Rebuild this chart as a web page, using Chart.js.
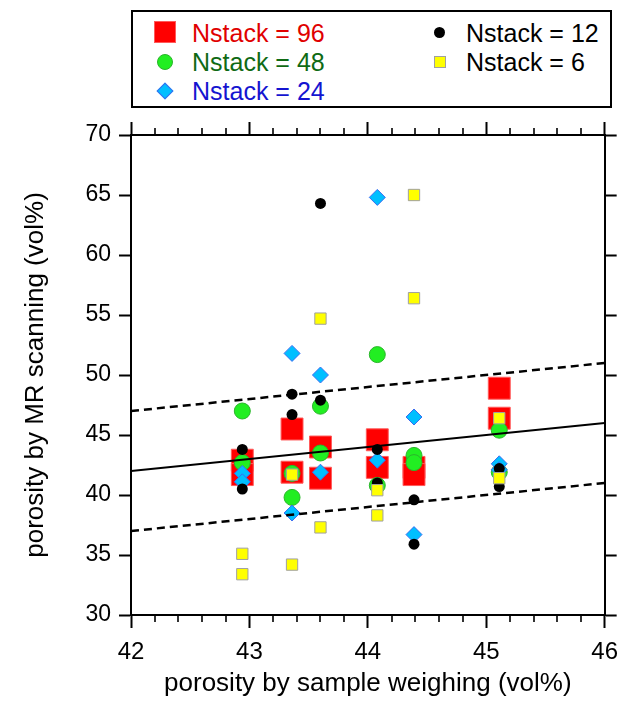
<!DOCTYPE html>
<html>
<head>
<meta charset="utf-8">
<script src="https://cdn.jsdelivr.net/npm/chart.js@4.4.1/dist/chart.umd.min.js"></script>
<style>
  body { margin: 0; background: #fff; }
  #wrap { position: relative; width: 628px; height: 702px; font-family: "Liberation Sans", Arial, sans-serif; }
  #legend { position: absolute; left: 131px; top: 10px; width: 477px; height: 94px; border: 2px solid #000; background: #fff; }
  .item { position: absolute; font-size: 25px; line-height: 30px; white-space: nowrap; }
  .mk { position: absolute; box-sizing: border-box; }
</style>
</head>
<body>
<div id="wrap">
  <canvas id="c" width="628" height="702"></canvas>
  <div id="legend"></div>
  <div class="mk" style="left:154px;top:21px;width:22px;height:22px;background:#ff0000;border:1px solid #ff5a5a;"></div>
  <div class="item" style="left:192px;top:18px;color:#e00000;">Nstack = 96</div>
  <div class="mk" style="left:157px;top:54px;width:16px;height:16px;border-radius:50%;background:#22ee22;border:1px solid #2bb52b;"></div>
  <div class="item" style="left:192px;top:47px;color:#0f6a14;">Nstack = 48</div>
  <div class="mk" style="left:159px;top:85px;width:12px;height:12px;transform:rotate(45deg);background:#00bfff;border:1px solid #3a6cf0;"></div>
  <div class="item" style="left:192px;top:76px;color:#1414d0;">Nstack = 24</div>
  <div class="mk" style="left:434px;top:27px;width:11px;height:11px;border-radius:50%;background:#000;"></div>
  <div class="item" style="left:466px;top:18px;color:#000;">Nstack = 12</div>
  <div class="mk" style="left:434px;top:56px;width:12px;height:12px;background:#ffff00;border:1px solid #a0a0a0;"></div>
  <div class="item" style="left:466px;top:47px;color:#000;">Nstack = 6</div>
</div>
<script>
// sample weighing porosity of the six samples (x columns)
const columnX = [42.94, 43.36, 43.60, 44.08, 44.39, 45.11];

// MR porosity, two values per sample (same order as columnX)
const nstack96 = [42.9, 41.7, 45.5, 41.9, 44.0, 41.4, 44.6, 42.3, 42.3, 41.7, 48.9, 46.4];
const nstack48 = [47.0, 42.7, 41.8, 39.8, 47.4, 43.5, 51.7, 40.8, 43.3, 42.7, 45.4, 41.9];
const nstack24 = [41.8, 41.1, 51.8, 38.5, 50.0, 41.9, 64.8, 42.9, 46.5, 36.7, 42.6, 42.1];
const nstack12 = [43.8, 40.5, 48.4, 46.7, 64.3, 47.9, 43.8, 41.0, 39.6, 35.9, 42.2, 40.7];
const nstack6  = [35.1, 33.4, 41.7, 34.2, 54.7, 37.3, 40.4, 38.3, 65.0, 56.4, 46.4, 41.4];

// y = x line and +/- 5 band
const fitX = [42, 46];
const bandOffsets = [0, 5, -5];

const xTicks = [42, 43, 44, 45, 46];
const yTicks = [30, 35, 40, 45, 50, 55, 60, 65, 70];

const FONT = '"Liberation Sans", Arial, sans-serif';

function pts(ys) {
  return ys.map((y, i) => ({ x: columnX[Math.floor(i / 2)], y: y }));
}
function linePts(off) {
  return fitX.map(x => ({ x: x, y: x + off }));
}

// minor ticks on bottom/top x axes (every 0.2)
const minorTicks = {
  id: 'minorTicks',
  afterDraw(chart) {
    const ctx = chart.ctx;
    const a = chart.chartArea;
    const x = chart.scales.x;
    ctx.save();
    ctx.strokeStyle = '#000';
    ctx.lineWidth = 1.6;
    for (let i = 0; i < xTicks.length - 1; i++) {
      for (let k = 1; k < 5; k++) {
        const px = Math.round(x.getPixelForValue(xTicks[i] + k * 0.2));
        ctx.beginPath();
        ctx.moveTo(px, a.bottom);
        ctx.lineTo(px, a.bottom + 7);
        ctx.moveTo(px, a.top);
        ctx.lineTo(px, a.top - 7);
        ctx.stroke();
      }
    }
    ctx.restore();
  }
};

const gridOpts = (len) => ({
  drawOnChartArea: false,
  drawTicks: true,
  tickLength: len,
  tickWidth: 2,
  tickColor: '#000'
});

new Chart(document.getElementById('c'), {
  type: 'scatter',
  data: {
    datasets: [
      { label: 'Nstack = 6', data: pts(nstack6), order: 0, pointStyle: 'rect', pointRadius: 8,
        backgroundColor: '#ffff00', borderColor: '#a0a0a0', borderWidth: 1 },
      { label: 'Nstack = 12', data: pts(nstack12), order: 1, pointStyle: 'circle', pointRadius: 5.5,
        backgroundColor: '#000', borderColor: '#000', borderWidth: 0 },
      { label: 'fit', data: linePts(bandOffsets[0]), order: 2, showLine: true, pointRadius: 0,
        borderColor: '#000', borderWidth: 2 },
      { label: 'upper', data: linePts(bandOffsets[1]), order: 2, showLine: true, pointRadius: 0,
        borderColor: '#000', borderWidth: 2.5, borderDash: [8, 5] },
      { label: 'lower', data: linePts(bandOffsets[2]), order: 2, showLine: true, pointRadius: 0,
        borderColor: '#000', borderWidth: 2.5, borderDash: [8, 5] },
      { label: 'Nstack = 24', data: pts(nstack24), order: 3, pointStyle: 'rectRot', pointRadius: 8,
        backgroundColor: '#00bfff', borderColor: '#3a6cf0', borderWidth: 1 },
      { label: 'Nstack = 48', data: pts(nstack48), order: 4, pointStyle: 'circle', pointRadius: 8,
        backgroundColor: '#22ee22', borderColor: '#2bb52b', borderWidth: 1 },
      { label: 'Nstack = 96', data: pts(nstack96), order: 5, pointStyle: 'rect', pointRadius: 15.5,
        backgroundColor: '#ff0000', borderColor: '#ff5a5a', borderWidth: 1 }
    ]
  },
  options: {
    responsive: false,
    animation: false,
    layout: { padding: 0 },
    plugins: { legend: { display: false }, tooltip: { enabled: false } },
    scales: {
      x: {
        type: 'linear', position: 'bottom', min: xTicks[0], max: xTicks[xTicks.length - 1],
        afterBuildTicks: s => { s.ticks = xTicks.map(v => ({ value: v })); },
        ticks: { color: '#000', padding: 10, font: { family: FONT, size: 24 } },
        grid: gridOpts(13),
        border: { color: '#000', width: 2 },
        title: { display: true, text: 'porosity by sample weighing (vol%)', color: '#000',
                 font: { family: FONT, size: 26 }, padding: { top: 0, bottom: 3 } },
        afterFit: s => { s.height = 87; }
      },
      x2: {
        type: 'linear', axis: 'x', position: 'top', min: xTicks[0], max: xTicks[xTicks.length - 1],
        afterBuildTicks: s => { s.ticks = xTicks.map(v => ({ value: v })); },
        ticks: { display: false },
        grid: gridOpts(13),
        border: { color: '#000', width: 2 },
        afterFit: s => { s.height = 135; }
      },
      y: {
        type: 'linear', position: 'left', min: yTicks[0], max: yTicks[yTicks.length - 1],
        afterBuildTicks: s => { s.ticks = yTicks.map(v => ({ value: v })); },
        ticks: { color: '#000', padding: 8, font: { family: FONT, size: 23 } },
        grid: gridOpts(12),
        border: { color: '#000', width: 2 },
        title: { display: true, text: 'porosity by MR scanning (vol%)', color: '#000',
                 font: { family: FONT, size: 26 }, padding: { top: 20, bottom: 0 } },
        afterFit: s => { s.width = 131; }
      },
      y2: {
        type: 'linear', axis: 'y', position: 'right', min: yTicks[0], max: yTicks[yTicks.length - 1],
        afterBuildTicks: s => { s.ticks = yTicks.map(v => ({ value: v })); },
        ticks: { display: false },
        grid: gridOpts(12),
        border: { color: '#000', width: 2 },
        afterFit: s => { s.width = 20; }
      }
    }
  },
  plugins: [minorTicks]
});
</script>
</body>
</html>
